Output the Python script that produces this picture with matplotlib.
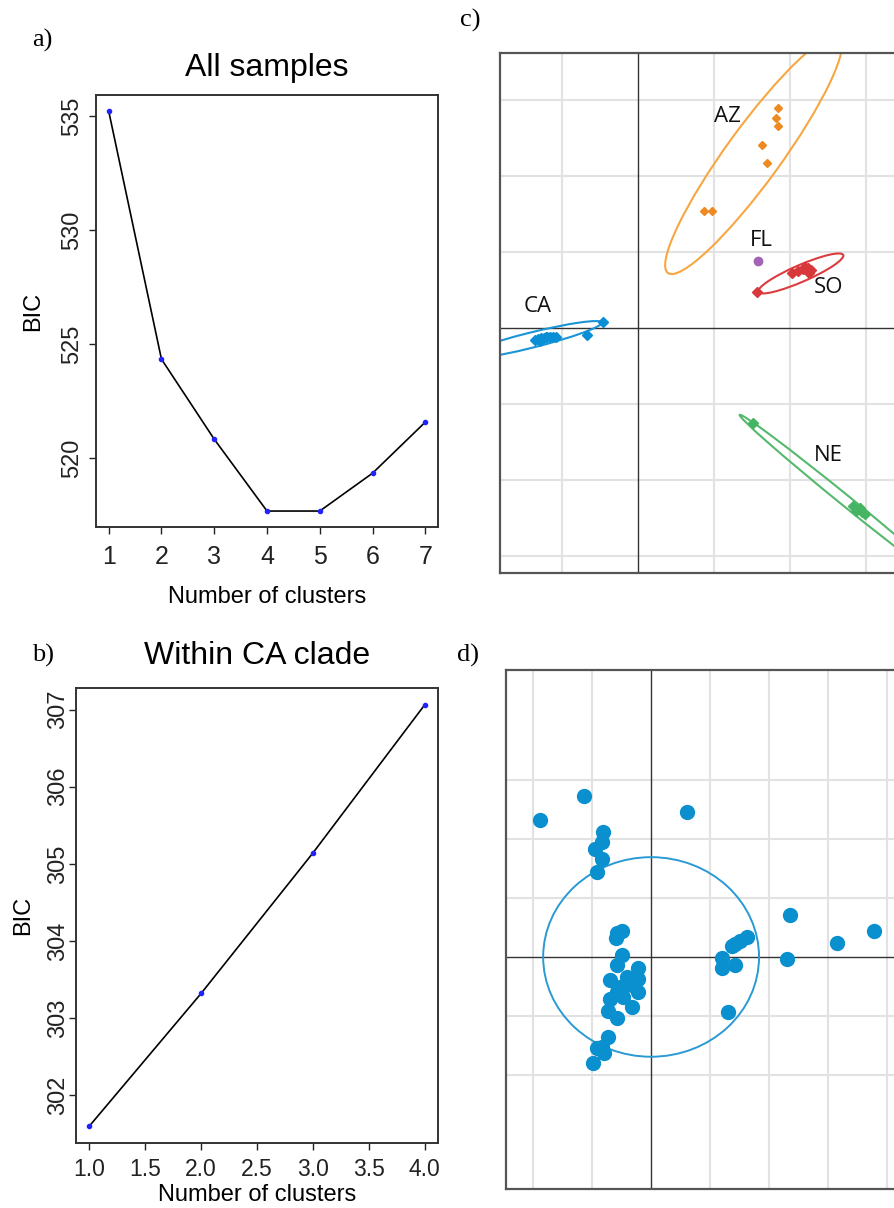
import matplotlib
matplotlib.use("Agg")
import matplotlib.pyplot as plt
from matplotlib.patches import Ellipse

# ---- data ----
# a) BIC for all samples
a_k = [1, 2, 3, 4, 5, 6, 7]
a_bic = [535.22, 524.34, 520.83, 517.68, 517.68, 519.34, 521.58]

# b) BIC within CA clade
b_k = [1, 2, 3, 4]
b_bic = [301.60, 303.32, 305.14, 307.06]
b_xticks = [1.0, 1.5, 2.0, 2.5, 3.0, 3.5, 4.0]

# c) DAPC scatter, one list per group
ca_x = [-1.36, -1.32, -1.28, -1.24, -1.20, -1.16, -1.12, -1.08, -1.29, -1.22, -0.67, -0.47]
ca_y = [-0.16, -0.14, -0.13, -0.13, -0.12, -0.12, -0.11, -0.11, -0.17, -0.11, -0.09, 0.08]
az_x = [1.84, 1.82, 1.84, 1.63, 1.70, 0.86, 0.97]
az_y = [2.89, 2.76, 2.66, 2.41, 2.17, 1.54, 1.54]
so_x = [1.57, 2.03, 2.10, 2.17, 2.23, 2.28, 2.20, 2.25]
so_y = [0.48, 0.72, 0.75, 0.78, 0.79, 0.76, 0.81, 0.73]
fl_x = [1.58]
fl_y = [0.88]
ne_x = [2.83, 2.89, 2.95, 2.87, 2.92, 2.99, 1.51]
ne_y = [-2.34, -2.38, -2.42, -2.41, -2.36, -2.45, -1.25]

# c) group ellipses: centre, full axes, angle
ell_names = ["CA", "AZ", "SO", "NE"]
ell_cx = [-1.42, 1.52, 2.14, 2.72]
ell_cy = [-0.16, 2.28, 0.72, -2.26]
ell_w = [1.94, 3.84, 1.22, 3.56]
ell_h = [0.20, 0.72, 0.22, 0.14]
ell_ang = [14, 54, 23.5, -39]

# c) group labels
lab_names = ["AZ", "FL", "SO", "CA", "NE"]
lab_x = [1.18, 1.62, 2.50, -1.32, 2.50]
lab_y = [2.78, 1.15, 0.53, 0.28, -1.67]

# d) DAPC within CA clade
d_x = [-1.88, -1.14, 0.61, -0.81, -0.83, -0.95, -0.83, -0.92, 2.36, 3.78,
       3.15, 2.31, 1.63, 1.51, 1.42, 1.37, 1.20, 1.20, 1.42, 1.31,
       -0.58, -0.49, -0.59, -0.49, -0.58, -0.22, -0.69, -0.41, -0.22, -0.53,
       -0.32, -0.22, -0.69, -0.47, -0.58, -0.32, -0.73, -0.58, -0.73, -0.92,
       -0.80, -0.98, -0.83]
d_y = [2.32, 2.73, 2.46, 2.12, 1.95, 1.83, 1.66, 1.44, 0.71, 0.44,
       0.24, -0.03, 0.34, 0.27, 0.22, 0.19, -0.02, -0.19, -0.14, -0.93,
       0.41, 0.44, 0.32, 0.03, -0.14, -0.19, -0.39, -0.34, -0.37, -0.51,
       -0.47, -0.59, -0.71, -0.68, -0.59, -0.85, -0.92, -1.03, -1.36, -1.54,
       -1.63, -1.80, -1.53]
d_ell = (0.0, 0.0, 3.66, 3.38)

W, H = 895, 1208
fig = plt.figure(figsize=(W / 100, H / 100), dpi=100)


def box(left, top, right, bottom):
    # pixel box -> figure fraction
    return [left / W, 1 - bottom / H, (right - left) / W, (bottom - top) / H]


sans = "Liberation Sans"
serif = "Liberation Serif"


def bic_panel(ax, k, bic, title, pad_title):
    ax.plot(k, bic, color="black", lw=1.2, zorder=2)
    ax.plot(k, bic, "o", color="#2222ff", ms=3, zorder=3)
    ax.set_title(title, fontsize=23, family=sans, pad=pad_title)
    ax.set_xlabel("Number of clusters", fontsize=17, family=sans)
    ax.set_ylabel("BIC", fontsize=17, family=sans)
    ax.xaxis.label.set_verticalalignment("center")
    ax.yaxis.label.set_verticalalignment("center")
    for s in ax.spines.values():
        s.set_color("#333333")
        s.set_linewidth(1.4)
    ax.tick_params(length=5, width=1, colors="#222222")


# ---- a) ----
ax = fig.add_axes(box(96, 95, 438, 527))
bic_panel(ax, a_k, a_bic, "All samples", 14)
ax.set_xlim(0.76, 7.24)
ax.set_ylim(516.98, 535.92)
ax.set_xticks(a_k)
ax.set_xticklabels([str(v) for v in a_k], family=sans, fontsize=18)
ax.set_yticks([520, 525, 530, 535])
ax.set_yticklabels(["520", "525", "530", "535"], family=sans, fontsize=17)
ax.tick_params(axis="x", pad=8)
ax.tick_params(axis="y", pad=4, labelrotation=90)
for t in ax.get_yticklabels():
    t.set_verticalalignment("center")
ax.xaxis.set_label_coords(0.5, -0.162)
ax.yaxis.set_label_coords(-0.184, 0.5)

# ---- b) ----
ax = fig.add_axes(box(76, 688, 438, 1143))
bic_panel(ax, b_k, b_bic, "Within CA clade", 17)
ax.set_xlim(0.88, 4.12)
ax.set_ylim(301.38, 307.28)
ax.set_xticks(b_xticks)
ax.set_xticklabels(["%.1f" % v for v in b_xticks], family=sans, fontsize=16.5)
ax.set_yticks([302, 303, 304, 305, 306, 307])
ax.set_yticklabels(["302", "303", "304", "305", "306", "307"], family=sans, fontsize=17)
ax.tick_params(axis="x", pad=6)
ax.tick_params(axis="y", pad=0, labelrotation=90)
for t in ax.get_yticklabels():
    t.set_verticalalignment("center")
ax.xaxis.set_label_coords(0.5, -0.114)
ax.yaxis.set_label_coords(-0.146, 0.5)


def scatter_frame(ax, vlines, hlines):
    for v in vlines:
        ax.axvline(v, color="#e2e2e2", lw=1.5, zorder=0)
    for h in hlines:
        ax.axhline(h, color="#e2e2e2", lw=1.5, zorder=0)
    ax.axvline(0, color="#333333", lw=1.0, zorder=1)
    ax.axhline(0, color="#333333", lw=1.0, zorder=1)
    ax.set_xticks([])
    ax.set_yticks([])
    for s in ax.spines.values():
        s.set_color("#555555")
        s.set_linewidth(1.6)


# ---- c) ----
ax = fig.add_axes(box(500, 53, 942, 573))
ax.set_xlim(-1.82, 4.0)
ax.set_ylim(-3.22, 3.62)
scatter_frame(ax, [-1, 1, 2, 3], [-3, -2, -1, 1, 2, 3])

ell_colors = {"CA": "#1a94d6", "AZ": "#f7a742", "SO": "#dc3c3e", "NE": "#55b96d"}
pt_colors = {"CA": "#0a8ed6", "AZ": "#ee8a22", "SO": "#d9383a", "NE": "#45b563", "FL": "#a263b5"}
for n, cx, cy, w, h, a in zip(ell_names, ell_cx, ell_cy, ell_w, ell_h, ell_ang):
    ax.add_patch(Ellipse((cx, cy), w, h, angle=a, fill=False,
                         edgecolor=ell_colors[n], lw=1.5, zorder=2))

ax.plot(ca_x, ca_y, "D", color=pt_colors["CA"], ms=5.5, zorder=3)
ax.plot(az_x, az_y, "D", color=pt_colors["AZ"], ms=4, zorder=3)
ax.plot(so_x, so_y, "D", color=pt_colors["SO"], ms=5, zorder=3)
ax.plot(ne_x, ne_y, "D", color=pt_colors["NE"], ms=5, zorder=3)
ax.plot(fl_x, fl_y, "o", color=pt_colors["FL"], ms=6, zorder=3)
for n, x, y in zip(lab_names, lab_x, lab_y):
    ax.text(x, y, n, fontsize=16, family="Open Sans", ha="center", va="center",
            color="#111111", zorder=4)

# ---- d) ----
ax = fig.add_axes(box(506, 670, 946, 1189))
ax.set_xlim(-2.46, 5.0)
ax.set_ylim(-3.93, 4.86)
scatter_frame(ax, [-2, -1, 1, 2, 3, 4], [-2, -1, 1, 2, 3])
ax.add_patch(Ellipse((d_ell[0], d_ell[1]), d_ell[2], d_ell[3], fill=False,
                     edgecolor="#2a9ad4", lw=1.4, zorder=2))
ax.plot(d_x, d_y, "o", color="#0a90cf", ms=10, zorder=3)

# ---- panel letters ----
for lab, px, py in [("a)", 42, 40), ("b)", 43, 655), ("c)", 470, 20), ("d)", 468, 655)]:
    fig.text(px / W, 1 - py / H, lab, fontsize=19, family=serif,
             ha="center", va="center")

fig.savefig("out.png", dpi=100)
